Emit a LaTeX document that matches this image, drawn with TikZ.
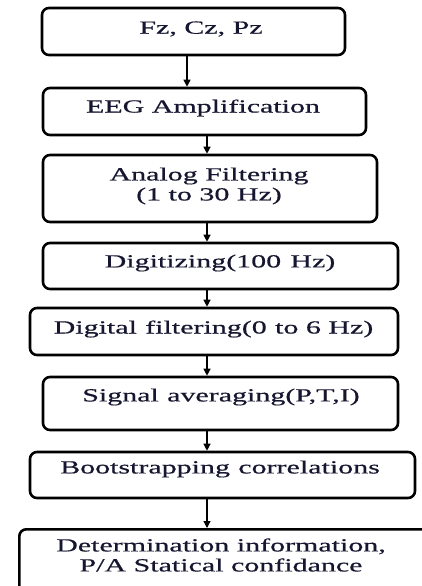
\documentclass[tikz,border=0pt]{standalone}
\usepackage{fontspec}
\setmainfont{Liberation Serif}
\newfontfamily\boxfont[FakeStretch=1.62,FakeBold=0.6]{Liberation Serif}
\usetikzlibrary{arrows.meta}
\definecolor{txt}{RGB}{22,22,48}
\tikzset{
  box/.style={draw=black, line width=2.6pt, rounded corners=7pt, inner sep=0pt,
    font=\boxfont\fontsize{18.5}{20}\selectfont, text=txt, align=center},
  lbl/.style={font=\boxfont\fontsize{18.5}{20}\selectfont, text=txt, align=center, inner sep=0pt},
  arr/.style={line width=1.2pt, -{Triangle[length=7pt,width=7pt]}},
}
\begin{document}
\begin{tikzpicture}[x=1pt,y=-1pt]
\useasboundingbox (0,0) rectangle (422,586);
\begin{scope}
\clip (0,0) rectangle (422,586);
\node[box, minimum width=303pt, minimum height=47pt] (b1) at (193.5,31.5) {};
\node[lbl] (t1) at (201,29) {Fz, Cz, Pz};
\node[box, minimum width=323pt, minimum height=47pt] (b2) at (204.5,111.5) {};
\node[lbl] (t2) at (203,108) {EEG Amplification};
\node[box, minimum width=334pt, minimum height=67pt] (b3) at (210,188.5) {};
\node[lbl] (t3) at (209,186) {Analog Filtering\\(1 to 30 Hz)};
\node[box, minimum width=355pt, minimum height=46pt] (b4) at (220.5,266) {};
\node[lbl] (t4) at (220,263) {Digitizing(100\hspace{0.5em}Hz)};
\node[box, minimum width=368pt, minimum height=47pt] (b5) at (214,331.5) {};
\node[lbl] (t5) at (213.5,329) {Digital\hspace{0.45em}filtering(0\hspace{0.45em}to 6 Hz)};
\node[box, minimum width=355pt, minimum height=53pt] (b6) at (220.5,403.5) {};
\node[lbl] (t6) at (221,397) {Signal\hspace{0.45em}averaging(P,T,I)};
\node[box, minimum width=385pt, minimum height=46pt] (b7) at (222.5,475) {};
\node[lbl] (t7) at (220,469) {Bootstrapping\hspace{0.45em}correlations};
\node[box, minimum width=412pt, minimum height=70pt, anchor=north west] (b8) at (18,528) {};
\node[lbl] (t8) at (221,555) {Determination information,\\P/A Statical confidance};
\end{scope}
\draw[arr] (b1.south -| 187,0) -- (b2.north -| 187,0);
\draw[arr] (b2.south -| 207,0) -- (b3.north -| 207,0);
\draw[arr] (b3.south -| 207,0) -- (b4.north -| 207,0);
\draw[arr] (b4.south -| 207,0) -- (b5.north -| 207,0);
\draw[arr] (b5.south -| 207,0) -- (b6.north -| 207,0);
\draw[arr] (b6.south -| 207,0) -- (b7.north -| 207,0);
\draw[arr] (b7.south -| 207,0) -- (b8.north -| 207,0);
\end{tikzpicture}
\end{document}
